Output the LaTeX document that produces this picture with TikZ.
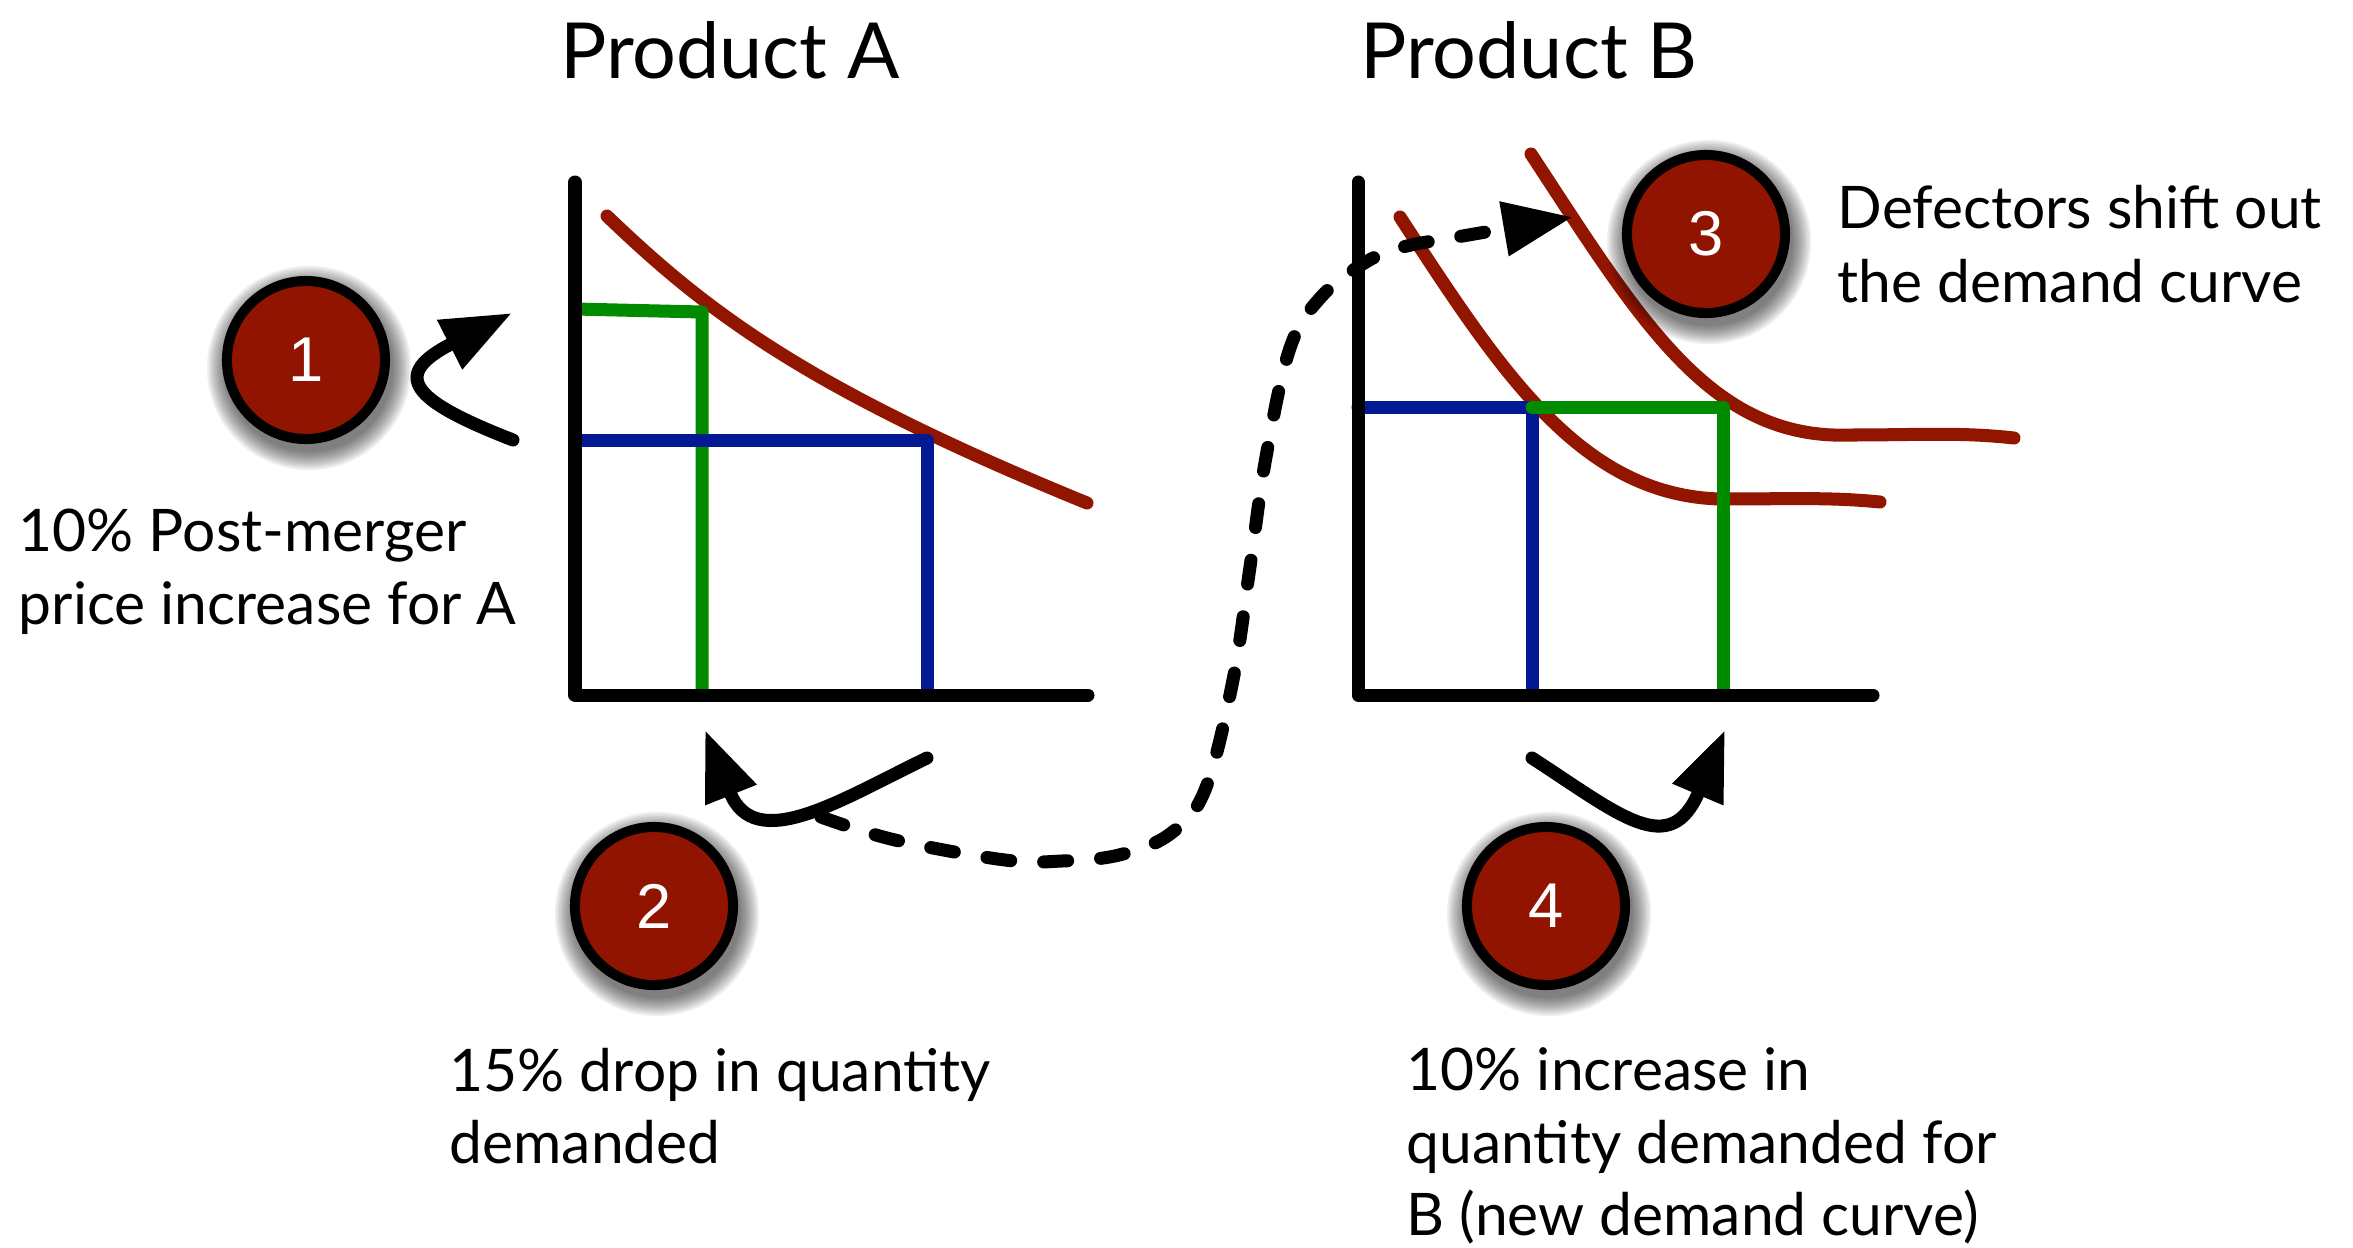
\documentclass[tikz,border=0pt]{standalone}
\usepackage{fontspec}
\setmainfont{Lato}
\newfontfamily\numfont{Liberation Sans}
\usetikzlibrary{arrows.meta}
\definecolor{dred}{RGB}{146,21,0}
\definecolor{cred}{RGB}{145,20,0}
\definecolor{lgreen}{RGB}{0,139,0}
\definecolor{lblue}{RGB}{3,25,148}
\newcommand\cshadow[1]{\foreach \r in {0.84,0.86,0.88,0.90,0.92,0.94,0.96,0.98,1.00,1.02}{\fill[black,fill opacity=0.065] ([shift={(3,8)}]#1) circle[radius=\r cm];}}
\begin{document}
\begin{tikzpicture}[x=0.01cm,y=-0.01cm,
 axline/.style={line width=0.13cm, line cap=round, line join=round},
 dcurve/.style={dred, line width=0.13cm, line cap=round},
 qline/.style={line width=0.13cm, line cap=round, line join=round},
 arr/.style={line width=0.13cm, line cap=round, -{Triangle[length=0.7cm,width=0.52cm]}},
 darr/.style={arr, dash pattern=on 0.24cm off 0.33cm},
 badge/.style={circle, fill=cred, draw=black, line width=0.1cm, minimum size=1.58cm, inner sep=0, text=white, font=\numfont\fontsize{18}{21}\selectfont},
 lbl/.style={font=\fontsize{16.7}{20}\selectfont, inner sep=0, anchor=base west},
 ttl/.style={font=\fontsize{22}{26}\selectfont, inner sep=0, anchor=base}
]
\useasboundingbox (0,0) rectangle (2353,1248);

% titles
\node[ttl] (tA) at (730,78) {Product A};
\node[ttl] (tB) at (1529,78) {Product B};

% ---- Product A graph
\draw[dcurve] (607,216) .. controls (708,313) and (808,389) .. (1087,503);
\draw[qline, lgreen] (575,309) -- (702,312) -- (702,695);
\draw[qline, lblue] (575,440) -- (927,440) -- (927,695);
\draw[axline] (575,182) -- (575,695) -- (1088,695);

% ---- Product B graph
\draw[dcurve] (1400,217) .. controls (1500,370) and (1580,495) .. (1720,499)
  .. controls (1790,499) and (1830,497) .. (1880,502);
\draw[dcurve] (1531,154) .. controls (1640,320) and (1710,440) .. (1850,435)
  .. controls (1920,435) and (1960,432) .. (2014,438);
\draw[qline, lblue] (1358,407) -- (1532,407) -- (1532,695);
\draw[qline, lgreen] (1532,407) -- (1723,407) -- (1723,695);
\draw[axline] (1358,182) -- (1358,695) -- (1873,695);

% ---- arrows
\coordinate (a1s) at (513,440); \coordinate (a1e) at (512,313);
\draw[arr] (a1s) .. controls (410,400) and (390,375) .. (a1e);
\coordinate (a2s) at (927,758); \coordinate (a2e) at (705,730);
\draw[arr] (a2s) .. controls (840,800) and (755,855) .. (a2e);
\coordinate (a4s) at (1532,758); \coordinate (a4e) at (1725,730);
\draw[arr] (a4s) .. controls (1620,815) and (1670,860) .. (a4e);
\coordinate (ds) at (821,817); \coordinate (de) at (1573,217);
\draw[darr] plot[smooth, tension=0.6] coordinates {(ds) (895,840) (1005,860) (1062,861) (1119,855) (1170,834) (1205,790) (1233,680) (1250,567) (1266,457) (1290,348) (1321,297) (1366,262) (1403,247) (1457,237) (de)};

% ---- badges
\coordinate (p1) at (306,360);
\coordinate (p2) at (654,906);
\coordinate (p3) at (1706,234);
\coordinate (p4) at (1546,906);
\cshadow{p1}\cshadow{p2}\cshadow{p3}\cshadow{p4}
\node[badge] (c1) at (p1) {1};
\node[badge] (c2) at (p2) {2};
\node[badge] (c3) at (p3) {3};
\node[badge] (c4) at (p4) {4};

% ---- labels
\node[lbl] (l1a) at (18,551) {10\% Post-merger};
\node[lbl] (l1b) at (18,624) {price increase for A};
\node[lbl] (l2a) at (449,1091) {15\% drop in quantity};
\node[lbl] (l2b) at (449,1163) {demanded};
\node[lbl] (l3a) at (1837,228) {Defectors shift out};
\node[lbl] (l3b) at (1837,302) {the demand curve};
\node[lbl] (l4a) at (1406,1090) {10\% increase in};
\node[lbl] (l4b) at (1406,1163) {quantity demanded for};
\node[lbl] (l4c) at (1406,1235) {B (new demand curve)};
\end{tikzpicture}
\end{document}
